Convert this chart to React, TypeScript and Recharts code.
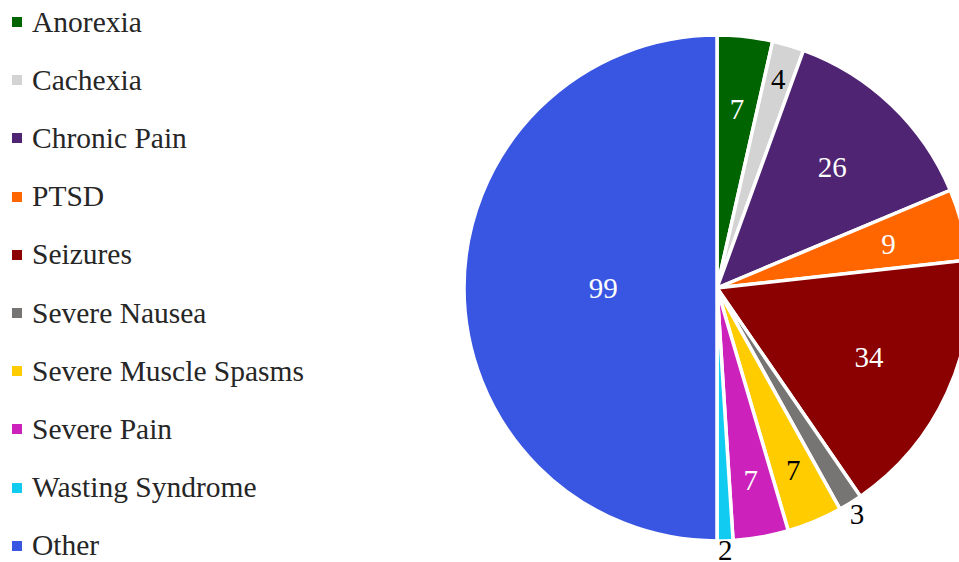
import { PieChart, Pie, Cell } from "recharts";

const conditions = [
  "Anorexia",
  "Cachexia",
  "Chronic Pain",
  "PTSD",
  "Seizures",
  "Severe Nausea",
  "Severe Muscle Spasms",
  "Severe Pain",
  "Wasting Syndrome",
  "Other",
];
const patientCounts = [7, 4, 26, 9, 34, 3, 7, 7, 2, 99];
const sliceColors = [
  "#006400",
  "#d3d3d3",
  "#4f2473",
  "#ff6600",
  "#8b0000",
  "#777574",
  "#ffcc00",
  "#cc22bb",
  "#11ccf0",
  "#3956e2",
];

// where each label sits, as a share of the radius (mimics "best fit")
const labelRadius: Record<string, number> = {
  Anorexia: 0.71,
  Cachexia: 0.86,
  "Chronic Pain": 0.66,
  PTSD: 0.7,
  Seizures: 0.66,
  "Severe Nausea": 1.05,
  "Severe Muscle Spasms": 0.78,
  "Severe Pain": 0.77,
  "Wasting Syndrome": 1.035,
  Other: 0.45,
};
const darkLabels = ["Cachexia", "Severe Nausea", "Severe Muscle Spasms", "Wasting Syndrome"];

const data = conditions.map((name, i) => ({ name, value: patientCounts[i] }));

const FONT = '"Liberation Serif", "Times New Roman", serif';
const RAD = Math.PI / 180;

function renderLabel(props: any) {
  const { cx, cy, midAngle, outerRadius, name, value } = props;
  const r = outerRadius * (labelRadius[name] ?? 0.7);
  const x = cx + r * Math.cos(-midAngle * RAD);
  const y = cy + r * Math.sin(-midAngle * RAD);
  return (
    <text
      x={x}
      y={y}
      textAnchor="middle"
      dominantBaseline="central"
      fontFamily={FONT}
      fontSize={29}
      fill={darkLabels.includes(name) ? "#000" : "#fff"}
    >
      {value}
    </text>
  );
}

function LegendList() {
  return (
    <div
      style={{
        position: "absolute",
        left: 0,
        top: -7,
        fontFamily: FONT,
        fontSize: 29.5,
        color: "#262626",
      }}
    >
      {conditions.map((name, i) => (
        <div key={name} style={{ display: "flex", alignItems: "center", height: 58.2 }}>
          <span
            style={{
              display: "inline-block",
              width: 10,
              height: 10,
              background: sliceColors[i],
              marginLeft: 12,
              marginRight: 10,
            }}
          />
          <span>{name}</span>
        </div>
      ))}
    </div>
  );
}

export default function App() {
  return (
    <div style={{ position: "absolute", left: 0, top: 0, width: 959, height: 562, background: "#fff", overflow: "hidden" }}>
      <PieChart width={959} height={562} margin={{ top: 0, right: 0, bottom: 0, left: 0 }}>
        <Pie
          data={data}
          dataKey="value"
          nameKey="name"
          cx={717}
          cy={288}
          outerRadius={253}
          startAngle={90}
          endAngle={-270}
          stroke="#fff"
          strokeWidth={3.5}
          label={renderLabel}
          labelLine={false}
          isAnimationActive={false}
        >
          {data.map((d, i) => (
            <Cell key={d.name} fill={sliceColors[i]} />
          ))}
        </Pie>
      </PieChart>
      <LegendList />
    </div>
  );
}
